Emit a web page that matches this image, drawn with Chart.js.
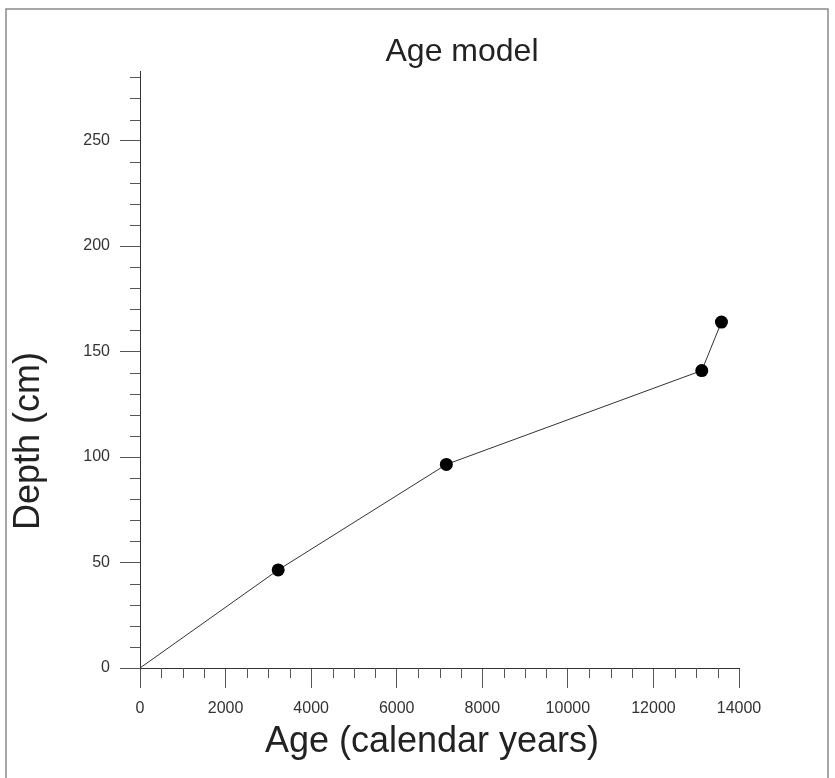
<!DOCTYPE html>
<html>
<head>
<meta charset="utf-8">
<script src="https://cdn.jsdelivr.net/npm/chart.js@4.4.1/dist/chart.umd.min.js"></script>
<style>
  html, body { margin: 0; padding: 0; background: #fff; }
  #wrap { width: 835px; height: 778px; }
</style>
</head>
<body>
<div id="wrap"><canvas id="c" width="835" height="778"></canvas></div>
<script>
// Age–depth control points (calendar years, cm)
const ages = [0, 3230, 7160, 13130, 13590];
const depths = [0, 46.5, 96.5, 141, 164];
// The origin is an anchor, not a dated sample: no marker drawn there
const markerRadius = [0, 6.5, 6.5, 6.5, 6.5];

const chartTitle = 'Age model';
const xTitle = 'Age (calendar years)';
const yTitle = 'Depth (cm)';

const xMin = 0, xMax = 14000, xMinorStep = 500, xMajorStep = 2000;
const yMin = 0, yMax = 283, yMinorStep = 10, yMajorStep = 50;

const FONT = '"Liberation Sans", Arial, Helvetica, sans-serif';

// Frame, titles and short minor tick marks
const decorations = {
  id: 'decorations',
  beforeDraw(chart) {
    const ctx = chart.ctx;
    ctx.save();
    ctx.fillStyle = '#fff';
    ctx.fillRect(0, 0, chart.width, chart.height);
    ctx.strokeStyle = '#8a8a8a';
    ctx.lineWidth = 1.5;
    ctx.beginPath();
    ctx.moveTo(6, chart.height + 2);
    ctx.lineTo(6, 9);
    ctx.lineTo(828, 9);
    ctx.lineTo(828, chart.height + 2);
    ctx.stroke();
    ctx.restore();
  },
  afterDraw(chart) {
    const ctx = chart.ctx;
    const xs = chart.scales.x, ys = chart.scales.y;
    ctx.save();
    ctx.strokeStyle = '#555';
    ctx.lineWidth = 1;
    // minor ticks on the depth axis
    for (let v = yMin; v <= yMax; v += yMinorStep) {
      if (v % yMajorStep === 0) continue;
      const py = Math.round(ys.getPixelForValue(v)) + 0.5;
      ctx.beginPath();
      ctx.moveTo(xs.left - 10, py);
      ctx.lineTo(xs.left, py);
      ctx.stroke();
    }
    // minor ticks on the age axis
    for (let v = xMin; v <= xMax; v += xMinorStep) {
      if (v % xMajorStep === 0) continue;
      const px = Math.round(xs.getPixelForValue(v)) + 0.5;
      ctx.beginPath();
      ctx.moveTo(px, ys.bottom);
      ctx.lineTo(px, ys.bottom + 10);
      ctx.stroke();
    }
    // titles
    ctx.fillStyle = '#222';
    ctx.textAlign = 'center';
    ctx.textBaseline = 'middle';
    ctx.font = '32px ' + FONT;
    ctx.fillText(chartTitle, 462, 52);
    ctx.font = '36px ' + FONT;
    ctx.fillText(xTitle, 432, 742);
    ctx.translate(29, 441);
    ctx.rotate(-Math.PI / 2);
    ctx.fillText(yTitle, 0, 0);
    ctx.restore();
  }
};

new Chart(document.getElementById('c'), {
  type: 'scatter',
  data: {
    datasets: [{
      data: ages.map((a, i) => ({ x: a, y: depths[i] })),
      showLine: true,
      borderColor: '#333',
      borderWidth: 1,
      pointRadius: markerRadius,
      pointHoverRadius: markerRadius,
      pointBackgroundColor: '#000',
      pointBorderColor: '#000',
      pointBorderWidth: 0,
      tension: 0
    }]
  },
  options: {
    responsive: false,
    animation: false,
    events: [],
    layout: { padding: { left: 0, right: 96, top: 71, bottom: 0 } },
    plugins: { legend: { display: false }, title: { display: false }, tooltip: { enabled: false } },
    scales: {
      x: {
        type: 'linear',
        min: xMin, max: xMax,
        afterFit(s) { s.height = 110; },
        border: { display: true, color: '#333', width: 1 },
        grid: {
          drawOnChartArea: false, drawTicks: true, tickLength: 20,
          color: c => (c.tick && c.tick.value % xMajorStep === 0) ? '#555' : 'rgba(0,0,0,0)'
        },
        ticks: {
          stepSize: xMinorStep, autoSkip: false, maxRotation: 0, padding: 11,
          color: '#333', font: { family: FONT, size: 16 },
          callback: v => (v % xMajorStep === 0) ? String(v) : ''
        }
      },
      y: {
        type: 'linear',
        min: yMin, max: yMax,
        afterFit(s) { s.width = 140; },
        border: { display: true, color: '#333', width: 1 },
        grid: {
          drawOnChartArea: false, drawTicks: true, tickLength: 20,
          color: c => (c.tick && c.tick.value % yMajorStep === 0) ? '#555' : 'rgba(0,0,0,0)'
        },
        ticks: {
          stepSize: yMinorStep, autoSkip: false, padding: 10,
          color: '#333', font: { family: FONT, size: 16 },
          callback: v => (v % yMajorStep === 0) ? String(v) : ''
        }
      }
    }
  },
  plugins: [decorations]
});
</script>
</body>
</html>
